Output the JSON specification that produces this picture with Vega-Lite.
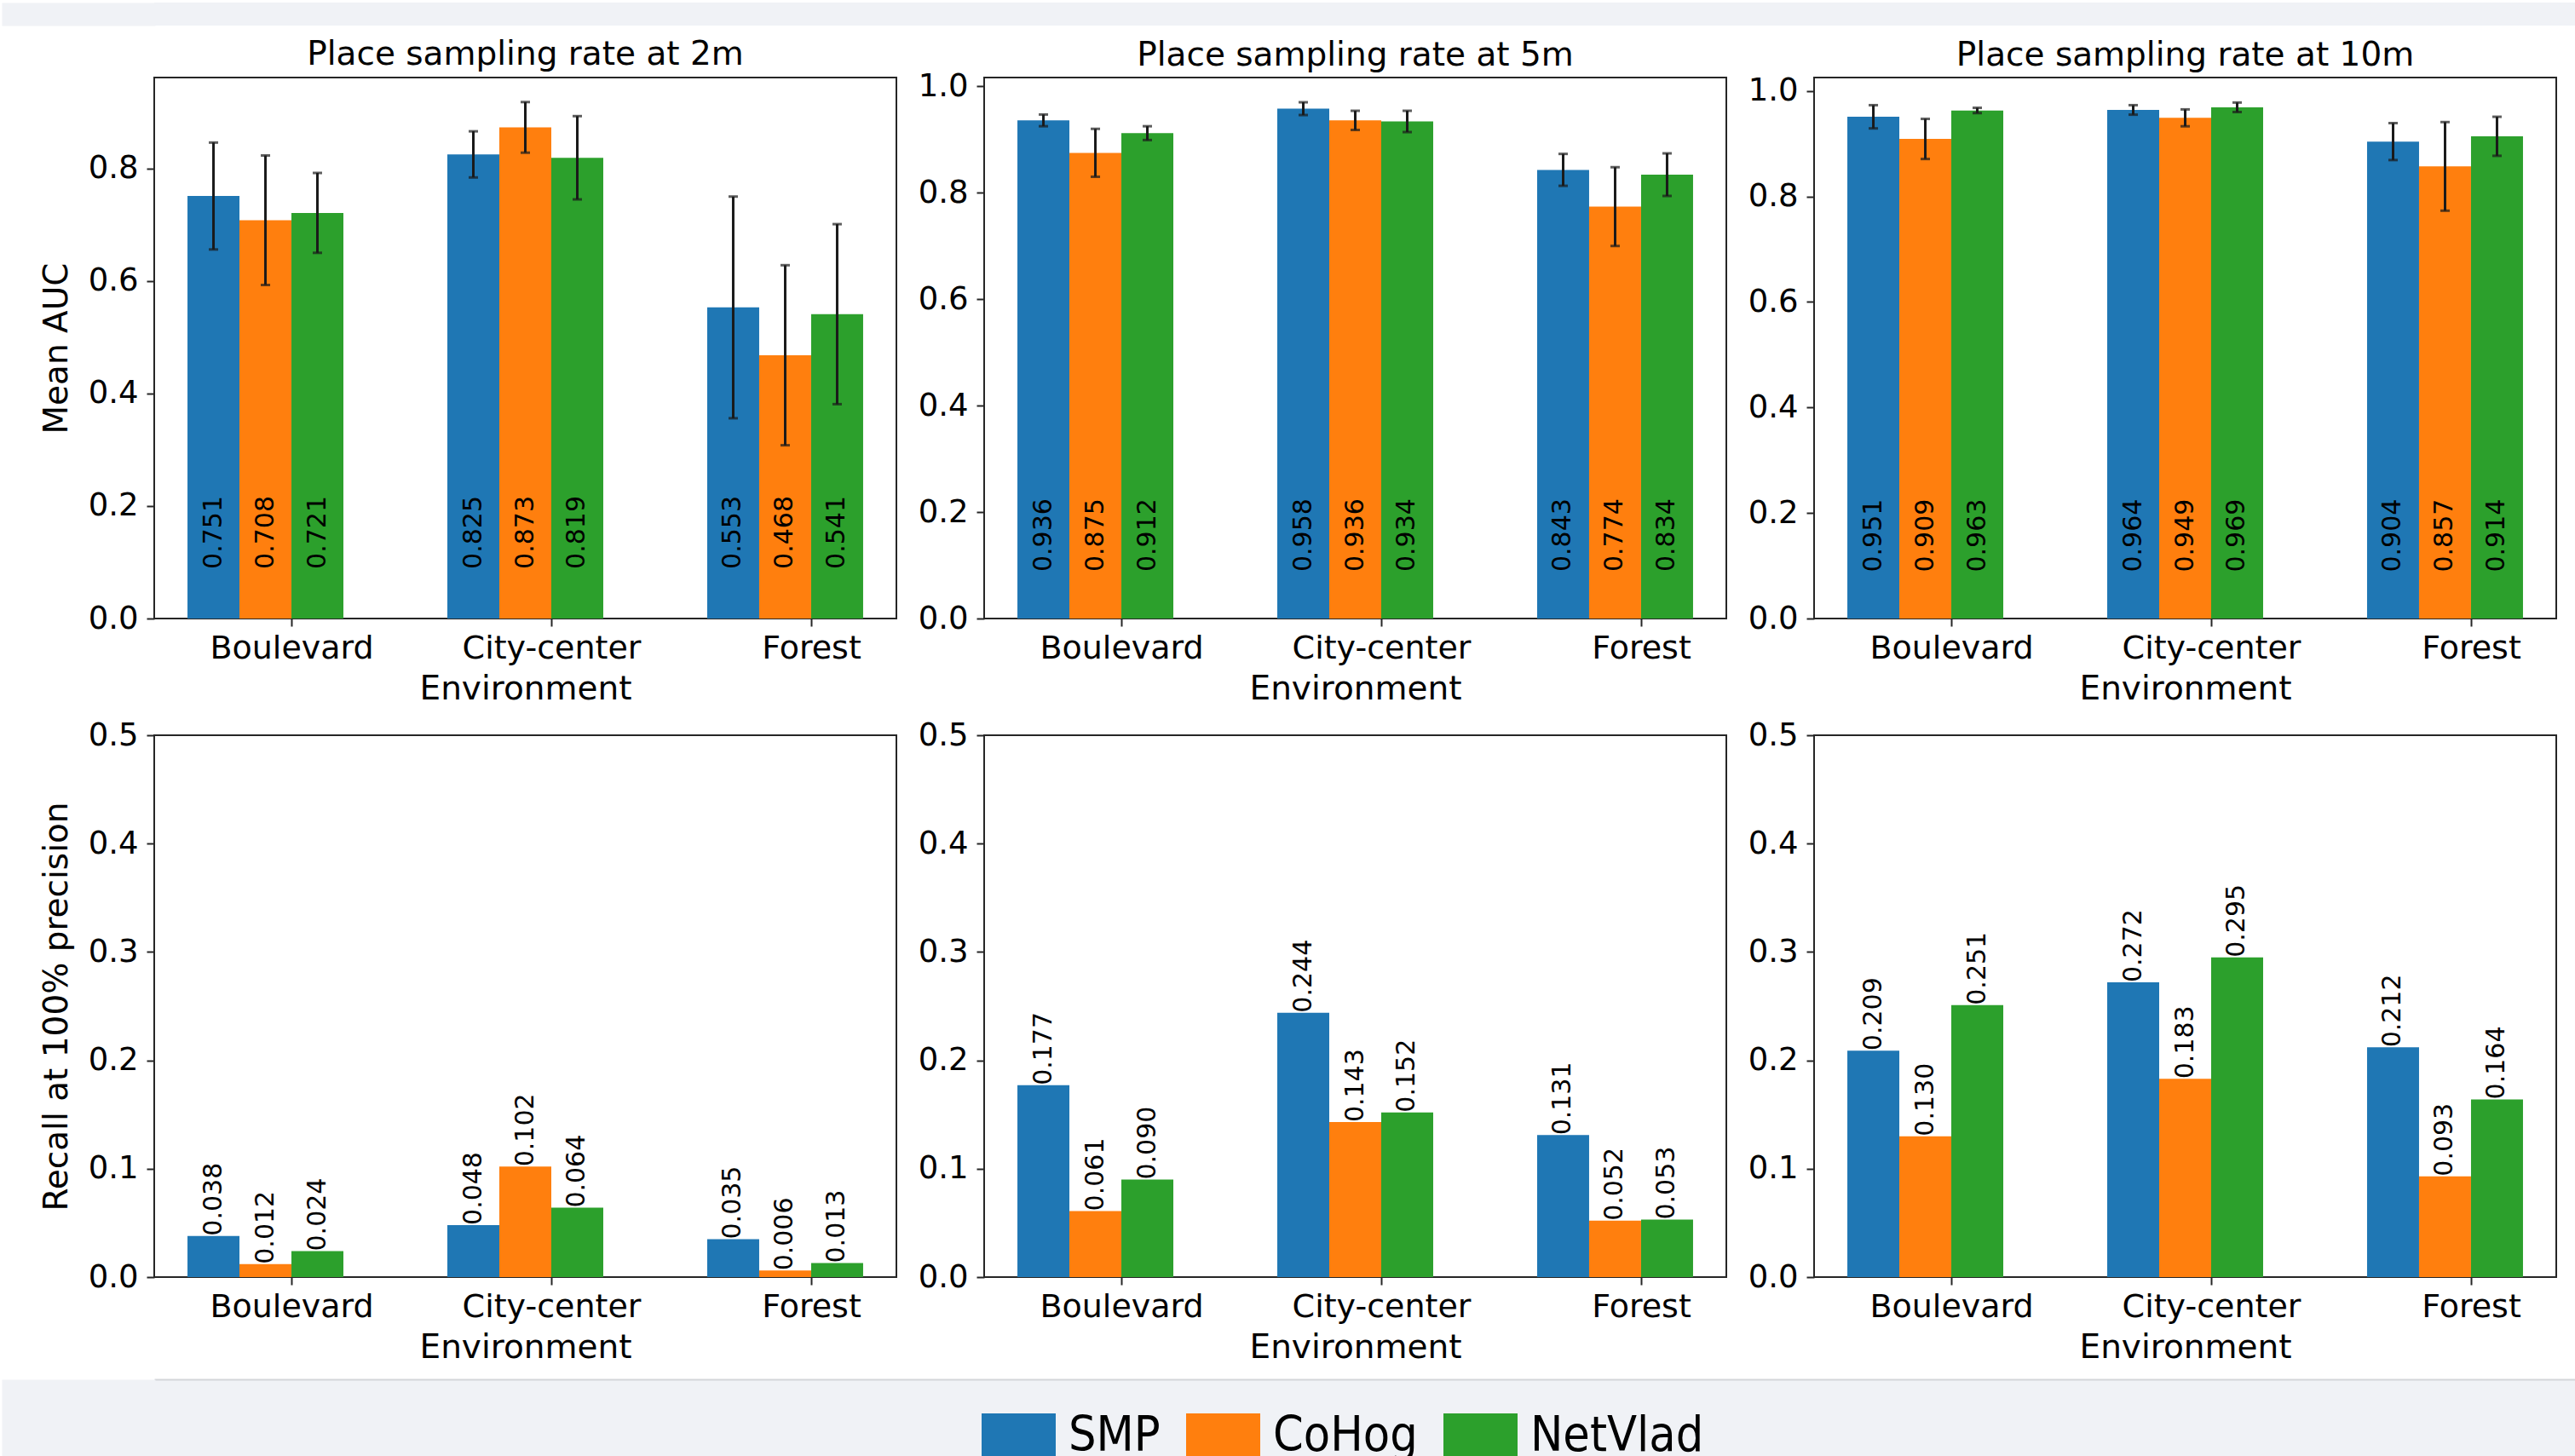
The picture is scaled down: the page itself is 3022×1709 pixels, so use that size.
{
  "$schema": "https://vega.github.io/schema/vega-lite/v6.json",
  "background": "white",
  "padding": {"left": 0, "top": 0, "right": 0, "bottom": 0},
  "spacing": 14,
  "datasets": {
    "main": [
      {"rate": "2m", "env": "Boulevard", "method": "SMP", "auc": 0.751, "err": 0.095, "recall": 0.038},
      {"rate": "2m", "env": "Boulevard", "method": "CoHog", "auc": 0.708, "err": 0.115, "recall": 0.012},
      {"rate": "2m", "env": "Boulevard", "method": "NetVlad", "auc": 0.721, "err": 0.071, "recall": 0.024},
      {"rate": "2m", "env": "City-center", "method": "SMP", "auc": 0.825, "err": 0.041, "recall": 0.048},
      {"rate": "2m", "env": "City-center", "method": "CoHog", "auc": 0.873, "err": 0.045, "recall": 0.102},
      {"rate": "2m", "env": "City-center", "method": "NetVlad", "auc": 0.819, "err": 0.074, "recall": 0.064},
      {"rate": "2m", "env": "Forest", "method": "SMP", "auc": 0.553, "err": 0.197, "recall": 0.035},
      {"rate": "2m", "env": "Forest", "method": "CoHog", "auc": 0.468, "err": 0.160, "recall": 0.006},
      {"rate": "2m", "env": "Forest", "method": "NetVlad", "auc": 0.541, "err": 0.160, "recall": 0.013},
      {"rate": "5m", "env": "Boulevard", "method": "SMP", "auc": 0.936, "err": 0.011, "recall": 0.177},
      {"rate": "5m", "env": "Boulevard", "method": "CoHog", "auc": 0.875, "err": 0.045, "recall": 0.061},
      {"rate": "5m", "env": "Boulevard", "method": "NetVlad", "auc": 0.912, "err": 0.013, "recall": 0.090},
      {"rate": "5m", "env": "City-center", "method": "SMP", "auc": 0.958, "err": 0.012, "recall": 0.244},
      {"rate": "5m", "env": "City-center", "method": "CoHog", "auc": 0.936, "err": 0.018, "recall": 0.143},
      {"rate": "5m", "env": "City-center", "method": "NetVlad", "auc": 0.934, "err": 0.020, "recall": 0.152},
      {"rate": "5m", "env": "Forest", "method": "SMP", "auc": 0.843, "err": 0.030, "recall": 0.131},
      {"rate": "5m", "env": "Forest", "method": "CoHog", "auc": 0.774, "err": 0.074, "recall": 0.052},
      {"rate": "5m", "env": "Forest", "method": "NetVlad", "auc": 0.834, "err": 0.040, "recall": 0.053},
      {"rate": "10m", "env": "Boulevard", "method": "SMP", "auc": 0.951, "err": 0.022, "recall": 0.209},
      {"rate": "10m", "env": "Boulevard", "method": "CoHog", "auc": 0.909, "err": 0.038, "recall": 0.130},
      {"rate": "10m", "env": "Boulevard", "method": "NetVlad", "auc": 0.963, "err": 0.005, "recall": 0.251},
      {"rate": "10m", "env": "City-center", "method": "SMP", "auc": 0.964, "err": 0.009, "recall": 0.272},
      {"rate": "10m", "env": "City-center", "method": "CoHog", "auc": 0.949, "err": 0.016, "recall": 0.183},
      {"rate": "10m", "env": "City-center", "method": "NetVlad", "auc": 0.969, "err": 0.009, "recall": 0.295},
      {"rate": "10m", "env": "Forest", "method": "SMP", "auc": 0.904, "err": 0.035, "recall": 0.212},
      {"rate": "10m", "env": "Forest", "method": "CoHog", "auc": 0.857, "err": 0.084, "recall": 0.093},
      {"rate": "10m", "env": "Forest", "method": "NetVlad", "auc": 0.914, "err": 0.037, "recall": 0.164}
    ]
  },
  "config": {
    "font": "DejaVu Sans",
    "view": {"stroke": "#262626", "strokeWidth": 2},
    "axis": {"domain": false, "grid": false, "labelFont": "DejaVu Sans", "labelColor": "#000", "tickColor": "#262626", "tickWidth": 2, "tickSize": 9, "titleFont": "DejaVu Sans", "titleFontSize": 39, "titleFontWeight": "normal", "titleColor": "#000"},
    "axisX": {"labelAngle": 0, "labelPadding": 7, "titlePadding": 9, "labelFontSize": 38, "labelLimit": 600},
    "axisY": {"labelPadding": 10, "titlePadding": 17, "titleLineHeight": 46, "labelFontSize": 37},
    "title": {"font": "DejaVu Sans", "fontSize": 39, "fontWeight": "normal", "color": "#000", "frame": "group", "baseline": "alphabetic", "anchor": "middle"},
    "text": {"font": "DejaVu Sans"}
  },
  "vconcat": [
    {
      "width": 2843, "height": 27,
      "view": {"fill": "#f0f2f6", "stroke": null},
      "data": {"values": [{}]},
      "mark": {"type": "point", "opacity": 0},
      "encoding": {
        "y": {"datum": 0, "type": "quantitative", "axis": {"title": null, "labels": false, "ticks": false, "domain": true, "domainColor": "#f0f2f6", "domainWidth": 180, "domainCap": "butt", "offset": 89}}
      }
    },
    {
      "hconcat": [
        {
          "width": 871, "height": 635,
          "title": {"text": "Place sampling rate at 2m", "offset": 7},
          "data": {"name": "main"},
          "transform": [{"filter": "datum.rate == '2m'"}],
          "encoding": {
            "x": {"field": "env", "type": "nominal", "sort": ["Boulevard", "City-center", "Forest"], "scale": {"paddingInner": 0.4, "paddingOuter": 0.128}, "axis": {"title": "Environment", "tickOffset": 30.5}},
            "xOffset": {"field": "method", "type": "nominal", "sort": ["SMP", "CoHog", "NetVlad"], "scale": {"paddingInner": 0, "paddingOuter": 0}},
            "y": {"field": "auc", "type": "quantitative", "scale": {"domain": [0, 0.9616], "nice": false}, "axis": {"title": ["", "Mean AUC"], "values": [0, 0.2, 0.4, 0.6, 0.8], "format": ".1f"}}
          },
          "layer": [
            {"mark": "bar", "encoding": {"color": {"field": "method", "type": "nominal", "scale": {"domain": ["SMP", "CoHog", "NetVlad"], "range": ["#1f77b4", "#ff7f0e", "#2ca02c"]}, "legend": {"title": null, "orient": "none", "legendX": 971, "legendY": 1656, "zindex": 1, "direction": "horizontal", "symbolType": "square", "symbolSize": 7569, "symbolStrokeWidth": 0, "labelFont": "DejaVu Sans Condensed", "labelFontSize": 57, "labelColor": "#000", "labelOffset": 15, "columnPadding": 30, "labelBaseline": "alphabetic", "labelLimit": 500, "padding": 0}}}},
            {"mark": {"type": "errorbar", "color": "#1a1a1a", "thickness": 3, "ticks": {"size": 11, "thickness": 3}}, "encoding": {"yError": {"field": "err"}}},
            {"mark": {"type": "text", "angle": 270, "align": "left", "baseline": "middle", "fontSize": 30, "color": "#000"}, "encoding": {"y": {"datum": 0.088}, "text": {"field": "auc", "type": "quantitative", "format": ".3f"}}}
          ]
        },
        {
          "width": 871, "height": 635,
          "title": {"text": "Place sampling rate at 5m", "offset": -2.5},
          "data": {"name": "main"},
          "transform": [{"filter": "datum.rate == '5m'"}],
          "encoding": {
            "x": {"field": "env", "type": "nominal", "sort": ["Boulevard", "City-center", "Forest"], "scale": {"paddingInner": 0.4, "paddingOuter": 0.128}, "axis": {"title": "Environment", "tickOffset": 30.5}},
            "xOffset": {"field": "method", "type": "nominal", "sort": ["SMP", "CoHog", "NetVlad"], "scale": {"paddingInner": 0, "paddingOuter": 0}},
            "y": {"field": "auc", "type": "quantitative", "scale": {"domain": [0, 1.0165], "nice": false}, "axis": {"title": null, "values": [0, 0.2, 0.4, 0.6, 0.8, 1.0], "format": ".1f"}}
          },
          "layer": [
            {"mark": "bar", "encoding": {"color": {"field": "method", "type": "nominal", "scale": {"domain": ["SMP", "CoHog", "NetVlad"], "range": ["#1f77b4", "#ff7f0e", "#2ca02c"]}, "legend": {"title": null, "orient": "none", "legendX": 971, "legendY": 1656, "zindex": 1, "direction": "horizontal", "symbolType": "square", "symbolSize": 7569, "symbolStrokeWidth": 0, "labelFont": "DejaVu Sans Condensed", "labelFontSize": 57, "labelColor": "#000", "labelOffset": 15, "columnPadding": 30, "labelBaseline": "alphabetic", "labelLimit": 500, "padding": 0}}}},
            {"mark": {"type": "errorbar", "color": "#1a1a1a", "thickness": 3, "ticks": {"size": 11, "thickness": 3}}, "encoding": {"yError": {"field": "err"}}},
            {"mark": {"type": "text", "angle": 270, "align": "left", "baseline": "middle", "fontSize": 30, "color": "#000"}, "encoding": {"y": {"datum": 0.088}, "text": {"field": "auc", "type": "quantitative", "format": ".3f"}}}
          ]
        },
        {
          "width": 871, "height": 635,
          "title": {"text": "Place sampling rate at 10m", "offset": 3},
          "data": {"name": "main"},
          "transform": [{"filter": "datum.rate == '10m'"}],
          "encoding": {
            "x": {"field": "env", "type": "nominal", "sort": ["Boulevard", "City-center", "Forest"], "scale": {"paddingInner": 0.4, "paddingOuter": 0.128}, "axis": {"title": "Environment", "tickOffset": 30.5}},
            "xOffset": {"field": "method", "type": "nominal", "sort": ["SMP", "CoHog", "NetVlad"], "scale": {"paddingInner": 0, "paddingOuter": 0}},
            "y": {"field": "auc", "type": "quantitative", "scale": {"domain": [0, 1.0254], "nice": false}, "axis": {"title": null, "values": [0, 0.2, 0.4, 0.6, 0.8, 1.0], "format": ".1f"}}
          },
          "layer": [
            {"mark": "bar", "encoding": {"color": {"field": "method", "type": "nominal", "scale": {"domain": ["SMP", "CoHog", "NetVlad"], "range": ["#1f77b4", "#ff7f0e", "#2ca02c"]}, "legend": {"title": null, "orient": "none", "legendX": 971, "legendY": 1656, "zindex": 1, "direction": "horizontal", "symbolType": "square", "symbolSize": 7569, "symbolStrokeWidth": 0, "labelFont": "DejaVu Sans Condensed", "labelFontSize": 57, "labelColor": "#000", "labelOffset": 15, "columnPadding": 30, "labelBaseline": "alphabetic", "labelLimit": 500, "padding": 0}}}},
            {"mark": {"type": "errorbar", "color": "#1a1a1a", "thickness": 3, "ticks": {"size": 11, "thickness": 3}}, "encoding": {"yError": {"field": "err"}}},
            {"mark": {"type": "text", "angle": 270, "align": "left", "baseline": "middle", "fontSize": 30, "color": "#000"}, "encoding": {"y": {"datum": 0.088}, "text": {"field": "auc", "type": "quantitative", "format": ".3f"}}}
          ]
        }
      ],
      "spacing": 23
    },
    {
      "hconcat": [
        {
          "width": 871, "height": 636,
          "data": {"name": "main"},
          "transform": [{"filter": "datum.rate == '2m'"}],
          "encoding": {
            "x": {"field": "env", "type": "nominal", "sort": ["Boulevard", "City-center", "Forest"], "scale": {"paddingInner": 0.4, "paddingOuter": 0.128}, "axis": {"title": "Environment", "tickOffset": 30.5}},
            "xOffset": {"field": "method", "type": "nominal", "sort": ["SMP", "CoHog", "NetVlad"], "scale": {"paddingInner": 0, "paddingOuter": 0}},
            "y": {"field": "recall", "type": "quantitative", "scale": {"domain": [0, 0.5], "nice": false}, "axis": {"title": ["", "Recall at 100% precision"], "values": [0, 0.1, 0.2, 0.3, 0.4, 0.5], "format": ".1f"}}
          },
          "layer": [
            {"mark": "bar", "encoding": {"color": {"field": "method", "type": "nominal", "scale": {"domain": ["SMP", "CoHog", "NetVlad"], "range": ["#1f77b4", "#ff7f0e", "#2ca02c"]}, "legend": {"title": null, "orient": "none", "legendX": 971, "legendY": 1656, "zindex": 1, "direction": "horizontal", "symbolType": "square", "symbolSize": 7569, "symbolStrokeWidth": 0, "labelFont": "DejaVu Sans Condensed", "labelFontSize": 57, "labelColor": "#000", "labelOffset": 15, "columnPadding": 30, "labelBaseline": "alphabetic", "labelLimit": 500, "padding": 0}}}},
            {"mark": {"type": "text", "angle": 270, "align": "left", "baseline": "middle", "fontSize": 30, "color": "#000"}, "encoding": {"text": {"field": "recall", "type": "quantitative", "format": ".3f"}}}
          ]
        },
        {
          "width": 871, "height": 636,
          "data": {"name": "main"},
          "transform": [{"filter": "datum.rate == '5m'"}],
          "encoding": {
            "x": {"field": "env", "type": "nominal", "sort": ["Boulevard", "City-center", "Forest"], "scale": {"paddingInner": 0.4, "paddingOuter": 0.128}, "axis": {"title": "Environment", "tickOffset": 30.5}},
            "xOffset": {"field": "method", "type": "nominal", "sort": ["SMP", "CoHog", "NetVlad"], "scale": {"paddingInner": 0, "paddingOuter": 0}},
            "y": {"field": "recall", "type": "quantitative", "scale": {"domain": [0, 0.5], "nice": false}, "axis": {"title": null, "values": [0, 0.1, 0.2, 0.3, 0.4, 0.5], "format": ".1f"}}
          },
          "layer": [
            {"mark": "bar", "encoding": {"color": {"field": "method", "type": "nominal", "scale": {"domain": ["SMP", "CoHog", "NetVlad"], "range": ["#1f77b4", "#ff7f0e", "#2ca02c"]}, "legend": {"title": null, "orient": "none", "legendX": 971, "legendY": 1656, "zindex": 1, "direction": "horizontal", "symbolType": "square", "symbolSize": 7569, "symbolStrokeWidth": 0, "labelFont": "DejaVu Sans Condensed", "labelFontSize": 57, "labelColor": "#000", "labelOffset": 15, "columnPadding": 30, "labelBaseline": "alphabetic", "labelLimit": 500, "padding": 0}}}},
            {"mark": {"type": "text", "angle": 270, "align": "left", "baseline": "middle", "fontSize": 30, "color": "#000"}, "encoding": {"text": {"field": "recall", "type": "quantitative", "format": ".3f"}}}
          ]
        },
        {
          "width": 871, "height": 636,
          "data": {"name": "main"},
          "transform": [{"filter": "datum.rate == '10m'"}],
          "encoding": {
            "x": {"field": "env", "type": "nominal", "sort": ["Boulevard", "City-center", "Forest"], "scale": {"paddingInner": 0.4, "paddingOuter": 0.128}, "axis": {"title": "Environment", "tickOffset": 30.5}},
            "xOffset": {"field": "method", "type": "nominal", "sort": ["SMP", "CoHog", "NetVlad"], "scale": {"paddingInner": 0, "paddingOuter": 0}},
            "y": {"field": "recall", "type": "quantitative", "scale": {"domain": [0, 0.5], "nice": false}, "axis": {"title": null, "values": [0, 0.1, 0.2, 0.3, 0.4, 0.5], "format": ".1f"}}
          },
          "layer": [
            {"mark": "bar", "encoding": {"color": {"field": "method", "type": "nominal", "scale": {"domain": ["SMP", "CoHog", "NetVlad"], "range": ["#1f77b4", "#ff7f0e", "#2ca02c"]}, "legend": {"title": null, "orient": "none", "legendX": 971, "legendY": 1656, "zindex": 1, "direction": "horizontal", "symbolType": "square", "symbolSize": 7569, "symbolStrokeWidth": 0, "labelFont": "DejaVu Sans Condensed", "labelFontSize": 57, "labelColor": "#000", "labelOffset": 15, "columnPadding": 30, "labelBaseline": "alphabetic", "labelLimit": 500, "padding": 0}}}},
            {"mark": {"type": "text", "angle": 270, "align": "left", "baseline": "middle", "fontSize": 30, "color": "#000"}, "encoding": {"text": {"field": "recall", "type": "quantitative", "format": ".3f"}}}
          ]
        }
      ],
      "spacing": 23
    },
    {
      "width": 2843, "height": 90,
      "view": {"fill": "#f0f2f6", "stroke": null},
      "data": {"values": [{}]},
      "mark": {"type": "point", "opacity": 0},
      "encoding": {
        "y": {"datum": 0, "type": "quantitative", "axis": {"title": null, "labels": false, "ticks": false, "domain": true, "domainColor": "#f0f2f6", "domainWidth": 180, "domainCap": "butt", "offset": 89}},
        "x": {"datum": 0, "type": "quantitative", "axis": {"orient": "top", "title": null, "labels": false, "ticks": false, "domain": true, "domainColor": "#d3d5d9", "domainWidth": 2}}
      }
    }
  ]
}
